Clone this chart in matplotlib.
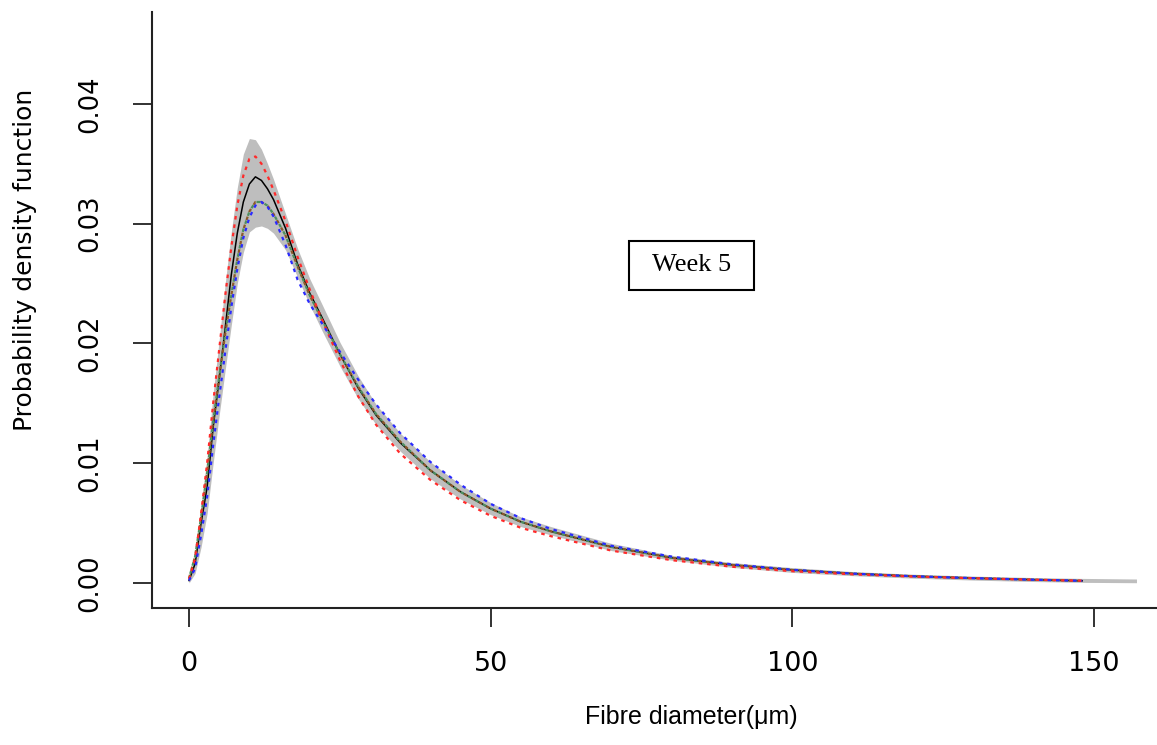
import matplotlib
matplotlib.use('Agg')
import matplotlib.pyplot as plt
from matplotlib.patches import Rectangle

# fibre diameter grid (um) and curves
diam = [0, 1, 2, 3, 4, 5, 6, 7, 8, 9, 10, 11, 12, 13, 14, 16, 18, 20, 22, 25, 28, 31,
        35, 40, 45, 50, 55, 60, 70, 80, 90, 100, 110, 120, 130, 140, 148]
pdf_mean = [0.0002, 0.0016, 0.0050, 0.0080, 0.0130, 0.0170, 0.0213, 0.0257, 0.0292, 0.0318,
            0.0333, 0.0339, 0.0336, 0.0329, 0.0320, 0.0296, 0.0266, 0.0242, 0.0222, 0.0191,
            0.0163, 0.0140, 0.0117, 0.0094, 0.0076, 0.0062, 0.0051, 0.0043, 0.0030, 0.0021,
            0.00150, 0.00108, 0.00078, 0.00056, 0.00040, 0.00027, 0.00018]
pdf_red = [0.0003, 0.0020, 0.0058, 0.0100, 0.0150, 0.0195, 0.0240, 0.0280, 0.0315, 0.0340,
           0.0354, 0.0356, 0.0350, 0.0340, 0.0328, 0.0302, 0.0272, 0.0245, 0.0220, 0.0186,
           0.0156, 0.0132, 0.0108, 0.0086, 0.0069, 0.0056, 0.0046, 0.0039, 0.0027, 0.0019,
           0.00135, 0.00098, 0.00072, 0.00053, 0.00039, 0.00027, 0.00019]
pdf_blue = [0.0002, 0.0012, 0.0040, 0.0072, 0.0115, 0.0155, 0.0193, 0.0230, 0.0262, 0.0288,
            0.0305, 0.0315, 0.0318, 0.0314, 0.0306, 0.0282, 0.0253, 0.0233, 0.0217, 0.0193,
            0.0170, 0.0149, 0.0125, 0.0101, 0.0082, 0.0066, 0.0054, 0.0045, 0.0031, 0.0022,
            0.00155, 0.00110, 0.00078, 0.00056, 0.00040, 0.00027, 0.00018]
pdf_brown = [0.0004, 0.0022, 0.0055, 0.0092, 0.0135, 0.0172, 0.0208, 0.0240, 0.0270, 0.0295,
             0.0310, 0.0318, 0.0318, 0.0315, 0.0308, 0.0290, 0.0264, 0.0240, 0.0220, 0.0191,
             0.0164, 0.0141, 0.0118, 0.0094, 0.0076, 0.0062, 0.0051, 0.0043, 0.0030, 0.0021,
             0.0015, 0.00108, 0.00078, 0.00056, 0.00040, 0.00027, 0.00018]

# confidence band (runs a little further than the curves)
band_x = diam + [157]
band_hi = [0.0004, 0.0022, 0.0065, 0.0105, 0.0158, 0.0203, 0.0250, 0.0293, 0.0330, 0.0358,
           0.0371, 0.0370, 0.0362, 0.0350, 0.0337, 0.0308, 0.0279, 0.0254, 0.0233, 0.0201,
           0.0173, 0.0149, 0.0125, 0.0101, 0.0082, 0.0067, 0.0055, 0.0047, 0.0033, 0.0023,
           0.00170, 0.00128, 0.00095, 0.00073, 0.00057, 0.00045, 0.00038, 0.00033]
band_lo = [0.0000, 0.0008, 0.0030, 0.0058, 0.0100, 0.0140, 0.0178, 0.0215, 0.0250, 0.0276,
           0.0293, 0.0297, 0.0298, 0.0296, 0.0292, 0.0278, 0.0255, 0.0232, 0.0211, 0.0181,
           0.0154, 0.0132, 0.0110, 0.0087, 0.0070, 0.0057, 0.0047, 0.0040, 0.0027, 0.0019,
           0.00130, 0.00088, 0.00061, 0.00040, 0.00024, 0.00012, 0.00005, 0.00002]

xticks = [0, 50, 100, 150]
yticks = [0.00, 0.01, 0.02, 0.03, 0.04]
ytick_labels = ['0.00', '0.01', '0.02', '0.03', '0.04']

plt.rcParams['font.family'] = ['DejaVu Sans']

fig = plt.figure(figsize=(11.57, 7.45), dpi=100)
ax = fig.add_axes([0.1314, 0.1839, 0.8686, 0.8])

ax.fill_between(band_x, band_lo, band_hi, color='#bebebe', lw=0)
ax.plot(diam, pdf_mean, color='black', lw=1.1)
dots = (0, (1.6, 2.2))
ax.plot(diam, pdf_brown, color='#8b5a2b', lw=1.6, ls=dots)
ax.plot(diam, pdf_brown, color='#4f8f5f', lw=1.6, ls=(1.8, (1.6, 2.2)))
ax.plot(diam, pdf_red, color='#ff2a2a', lw=1.6, ls=dots)
ax.plot(diam, pdf_blue, color='#2a2aff', lw=1.6, ls=dots)

# label box
ax.add_patch(Rectangle((72.9, 0.02446), 20.7, 0.00409, fill=False, edgecolor='black', lw=1.5))
ax.text(83.3, 0.02652, 'Week 5', family='Liberation Serif', fontsize=19,
        ha='center', va='center')

ax.set_xlim(-6.13, 160.4)
ax.set_ylim(-0.00209, 0.04766)
ax.set_xticks(xticks)
ax.set_yticks(yticks)
ax.set_yticklabels(ytick_labels, rotation=90, va='center', fontsize=18.5)
ax.set_xticklabels([str(t) for t in xticks], fontsize=19.5)
ax.tick_params(axis='both', length=14, width=1.3, color='#222222')
ax.tick_params(axis='x', pad=17)
ax.tick_params(axis='y', pad=21)

for side in ['top', 'right']:
    ax.spines[side].set_visible(False)
for side in ['left', 'bottom']:
    ax.spines[side].set_linewidth(1.5)
    ax.spines[side].set_color('#222222')

ax.set_xlabel('Fibre diameter(μm)', family='Liberation Sans', fontsize=18, va='top')
ax.xaxis.set_label_coords(0.537, -0.163)
ax.set_ylabel('Probability density function', fontsize=18)
ax.yaxis.set_label_coords(-0.114, 0.584)

fig.savefig('out.png', dpi=100)
